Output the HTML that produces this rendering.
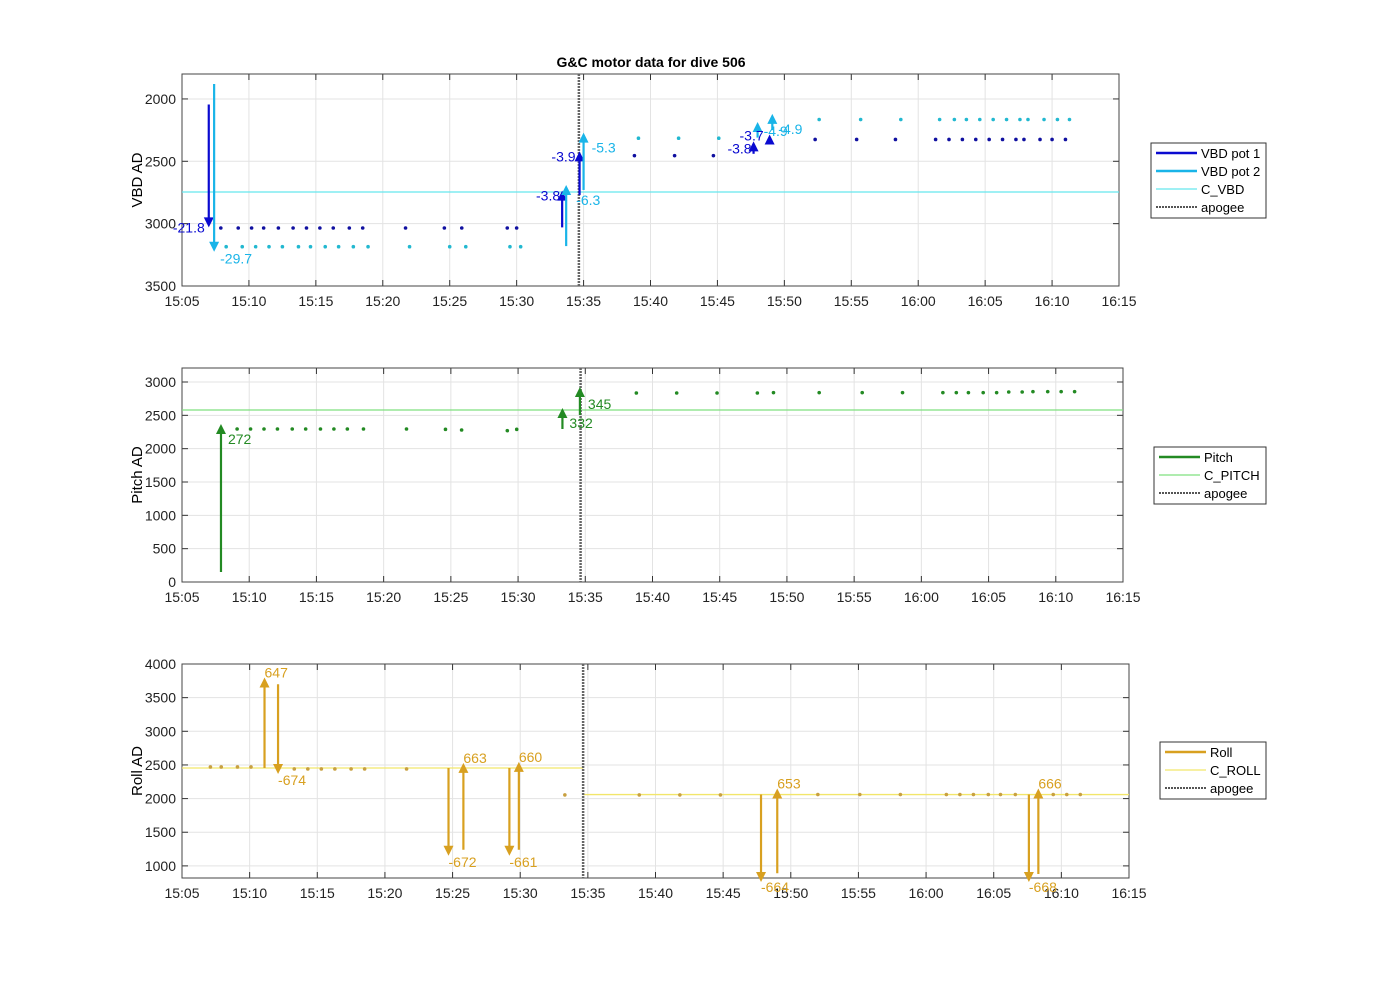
<!DOCTYPE html>
<html><head><meta charset="utf-8"><style>
html,body{margin:0;padding:0;background:#fff;}
svg{display:block;font-family:"Liberation Sans",sans-serif;}
</style></head><body>
<svg id="c" width="1400" height="986" viewBox="0 0 1400 986">
<text x="651" y="67" text-anchor="middle" font-size="14" font-weight="bold">G&amp;C motor data for dive 506</text>
</svg>
<script>
// ---- Data (times in minutes after 15:05) ----
const xTickLabels = ["15:05","15:10","15:15","15:20","15:25","15:30","15:35","15:40","15:45","15:50","15:55","16:00","16:05","16:10","16:15"];
const apogeeT = 29.65;
// VBD
const vbd1T = [2.9,4.2,5.2,6.1,7.2,8.3,9.3,10.3,11.3,12.5,13.5,16.7,19.6,20.9,24.3,25.0,33.8,36.8,39.7,47.3,50.4,53.3,56.3,57.3,58.3,59.3,60.3,61.3,62.3,62.9,64.1,65.0,66.0];
const vbd1V = [3035,3035,3035,3035,3035,3035,3035,3035,3035,3035,3035,3035,3035,3035,3035,3035,2455,2455,2455,2325,2325,2325,2325,2325,2325,2325,2325,2325,2325,2325,2325,2325,2325];
const vbd2T = [3.3,4.5,5.5,6.5,7.5,8.7,9.6,10.7,11.7,12.8,13.9,17.0,20.0,21.2,24.5,25.3,34.1,37.1,40.1,47.6,50.7,53.7,56.6,57.7,58.6,59.6,60.6,61.6,62.6,63.2,64.4,65.4,66.3];
const vbd2V = [3185,3185,3185,3185,3185,3185,3185,3185,3185,3185,3185,3185,3185,3185,3185,3185,2315,2315,2315,2165,2165,2165,2165,2165,2165,2165,2165,2165,2165,2165,2165,2165,2165];
const cVBD = 2746;
const vbdArrT = [2.0,2.4,28.4,28.7,29.7,30.0,42.7,43.0,43.9,44.1];
const vbdArrFrom = [2045,1880,3030,3180,2770,2730,2440,2310,2365,2250];
const vbdArrTo = [3030,3225,2735,2690,2420,2270,2340,2185,2285,2120];
const vbdArrSeries = [1,2,1,2,1,2,1,2,1,2];
const vbdArrLabel = ["-21.8","-29.7","-3.8","-6.3","-3.9","-5.3","-3.8","-4.9","-3.7","-4.9"];
// Pitch
const pitchT = [4.1,5.1,6.1,7.1,8.2,9.2,10.3,11.3,12.3,13.5,16.7,19.6,20.8,24.2,24.9,33.8,36.8,39.8,42.8,44.0,47.4,50.6,53.6,56.6,57.6,58.5,59.6,60.6,61.5,62.5,63.3,64.4,65.4,66.4];
const pitchV = [2295,2295,2295,2295,2295,2295,2295,2295,2295,2295,2295,2290,2280,2270,2290,2835,2835,2835,2835,2840,2840,2840,2840,2840,2840,2840,2840,2840,2850,2850,2855,2855,2855,2855];
const cPitch = 2580;
const pitchArrT = [2.9,28.3,29.6];
const pitchArrFrom = [150,2295,2505];
const pitchArrTo = [2370,2610,2925];
const pitchArrLabel = ["272","332","345"];
// Roll
const rollT = [2.1,2.9,4.1,5.1,8.3,9.3,10.3,11.3,12.5,13.5,16.6,28.3,33.8,36.8,39.8,47.0,50.1,53.1,56.5,57.5,58.5,59.6,60.5,61.6,64.4,65.4,66.4];
const rollV = [2470,2470,2470,2470,2440,2440,2440,2440,2440,2440,2440,2055,2055,2055,2055,2060,2060,2060,2060,2060,2060,2060,2060,2060,2060,2060,2060];
const cRollBefore = 2455, cRollAfter = 2060;
const rollArrT = [6.1,7.1,19.7,20.8,24.2,24.9,42.8,44.0,62.6,63.3];
const rollArrFrom = [2455,3700,2455,1240,2455,1240,2060,890,2060,880];
const rollArrTo = [3800,2365,1150,2530,1150,2545,760,2150,760,2150];
const rollArrLabel = ["647","-674","-672","663","-661","660","-664","653","-668","666"];
const vbdTicks=[2000,2500,3000,3500], pitchTicks=[0,500,1000,1500,2000,2500,3000], rollTicks=[1000,1500,2000,2500,3000,3500,4000];

const NS="http://www.w3.org/2000/svg", svg=document.getElementById('c');
function el(tag,attrs,parent){const e=document.createElementNS(NS,tag);for(const k in attrs)e.setAttribute(k,attrs[k]);(parent||svg).appendChild(e);return e;}
function panel(p){
  const g=el('g',{});
  
  
  const xs=t=>p.x0+(p.x1-p.x0)*t/70;
  const ys=v=>p.rev? p.y0+(v-p.vmin)/(p.vmax-p.vmin)*(p.y1-p.y0) : p.y1-(v-p.vmin)/(p.vmax-p.vmin)*(p.y1-p.y0);
  el('rect',{x:p.x0,y:p.y0,width:p.x1-p.x0,height:p.y1-p.y0,fill:'#fff'},g);
  xTickLabels.forEach((l,i)=>{const x=xs(i*5);
    el('line',{x1:x,x2:x,y1:p.y0,y2:p.y1,stroke:'#e3e3e3','stroke-width':1},g);
    el('line',{x1:x,x2:x,y1:p.y1,y2:p.y1-6,stroke:'#333'},g);el('line',{x1:x,x2:x,y1:p.y0,y2:p.y0+6,stroke:'#333'},g);
    const t=el('text',{x:x,y:p.y1+20,'text-anchor':'middle','font-size':14,fill:'#222'},g);t.textContent=l;
    
    });
  p.ticks.forEach(v=>{const y=ys(v);
    el('line',{x1:p.x0,x2:p.x1,y1:y,y2:y,stroke:'#e3e3e3'},g);
    el('line',{x1:p.x0,x2:p.x0+6,y1:y,y2:y,stroke:'#333'},g);el('line',{x1:p.x1,x2:p.x1-6,y1:y,y2:y,stroke:'#333'},g);
    const t=el('text',{x:p.x0-6,y:y+5,'text-anchor':'end','font-size':14,fill:'#222'},g);t.textContent=v;
    
    });
  el('rect',{x:p.x0,y:p.y0,width:p.x1-p.x0,height:p.y1-p.y0,fill:'none',stroke:'#444'},g);
  const yl=el('text',{x:0,y:0,transform:`translate(${p.x0-40},${(p.y0+p.y1)/2}) rotate(-90)`,'text-anchor':'middle','font-size':15},g);yl.textContent=p.ylabel;
  
  
  return {g,xs,ys};
}
function hline(P,p,v,t0,t1,color){el('line',{x1:P.xs(t0),x2:P.xs(t1),y1:P.ys(v),y2:P.ys(v),stroke:color,'stroke-width':1.3},P.g);}
function apogee(P,p){const l=el('line',{x1:P.xs(apogeeT),x2:P.xs(apogeeT),y1:p.y0,y2:p.y1,stroke:'#666','stroke-width':2.5,'stroke-dasharray':'2,1'},P.g);
  
  }
function dots(P,T,V,color,name){T.forEach((t,i)=>{const c=el('circle',{cx:P.xs(t),cy:P.ys(V[i]),r:1.8,fill:color},P.g);
  
  });}
function arrow(P,t,v0,v1,color,label,name,ldx,ldy,anchor){
  const x=P.xs(t),y0=P.ys(v0),y1=P.ys(v1),d=y1>y0?1:-1;
  const a=el('g',{},P.g);
  
  
  el('line',{x1:x,x2:x,y1:y0,y2:y1-d*8,stroke:color,'stroke-width':2.2},a);
  el('polygon',{points:`${x-5},${y1-d*10} ${x+5},${y1-d*10} ${x},${y1}`,fill:color},a);
  const tx=el('text',{x:x+ldx,y:y1+ldy,'font-size':14,fill:color,'text-anchor':anchor||'start'},a);tx.textContent=label;
}
function legend(x,y,w,entries){
  const g=el('g',{});
  
  
  el('rect',{x:x,y:y,width:w,height:entries.length*18+3,fill:'#fff',stroke:'#333'},g);
  entries.forEach((e,i)=>{const yy=y+10+i*18;
    el('line',{x1:x+5,x2:x+46,y1:yy,y2:yy,stroke:e[1],'stroke-width':e[2],'stroke-dasharray':e[3]||''},g);
    const t=el('text',{x:x+50,y:yy+5,'font-size':13},g);t.textContent=e[0];
    
    });
}
const B1='#0a0ad0',C1='#19b4e8',CV='#66e6ee';
// Panel 1
const p1={name:'vbd',x0:182,x1:1119,y0:74,y1:286,vmin:1800,vmax:3500,rev:true,ticks:vbdTicks,ylabel:'VBD AD'};
const P1=panel(p1);
hline(P1,p1,cVBD,0,70,CV);apogee(P1,p1);
dots(P1,vbd1T,vbd1V,'#1010a0','vbd-pot1-point');dots(P1,vbd2T,vbd2V,'#22b8d0','vbd-pot2-point');
const l1off=[[-4,5,'end'],[6,12,'start'],[-2,10,'end'],[10,20,'start'],[-4,10,'end'],[8,20,'start'],[-2,12,'end'],[6,14,'start'],[-6,6,'end'],[6,20,'start']];
vbdArrT.forEach((t,i)=>arrow(P1,t,vbdArrFrom[i],vbdArrTo[i],vbdArrSeries[i]==1?B1:C1,vbdArrLabel[i],'vbd-arrow',l1off[i][0],l1off[i][1],l1off[i][2]));
legend(1151,143,115,[['VBD pot 1',B1,2.5],['VBD pot 2',C1,2.5],['C_VBD',CV,1.3],['apogee','#555',2,'2,1']]);
// Panel 2
const G='#238a23';
const p2={name:'pitch',x0:182,x1:1123,y0:368,y1:582,vmin:0,vmax:3210,ticks:pitchTicks,ylabel:'Pitch AD'};
const P2=panel(p2);
hline(P2,p2,cPitch,0,70,'#7fe07f');apogee(P2,p2);
dots(P2,pitchT,pitchV,G,'pitch-point');
const l2off=[[7,20],[7,20],[8,22]];
pitchArrT.forEach((t,i)=>arrow(P2,t,pitchArrFrom[i],pitchArrTo[i],G,pitchArrLabel[i],'pitch-arrow',l2off[i][0],l2off[i][1]));
legend(1154,447,112,[['Pitch',G,2.5],['C_PITCH','#7fe07f',1.3],['apogee','#555',2,'2,1']]);
// Panel 3
const R='#d8a020';
const p3={name:'roll',x0:182,x1:1129,y0:664,y1:878,vmin:820,vmax:4000,ticks:rollTicks,ylabel:'Roll AD'};
const P3=panel(p3);
hline(P3,p3,cRollBefore,0,apogeeT,'#f2e66a');hline(P3,p3,cRollAfter,apogeeT,70,'#f2e66a');apogee(P3,p3);
dots(P3,rollT,rollV,'#c8a040','roll-point');
const l3off=[[0,0],[0,11],[0,11],[0,0],[0,11],[0,0],[0,10],[0,0],[0,10],[0,0]];
rollArrT.forEach((t,i)=>arrow(P3,t,rollArrFrom[i],rollArrTo[i],R,rollArrLabel[i],'roll-arrow',l3off[i][0],l3off[i][1]));
legend(1160,742,106,[['Roll',R,2.5],['C_ROLL','#f2e66a',1.3],['apogee','#555',2,'2,1']]);
</script>
</body></html>
